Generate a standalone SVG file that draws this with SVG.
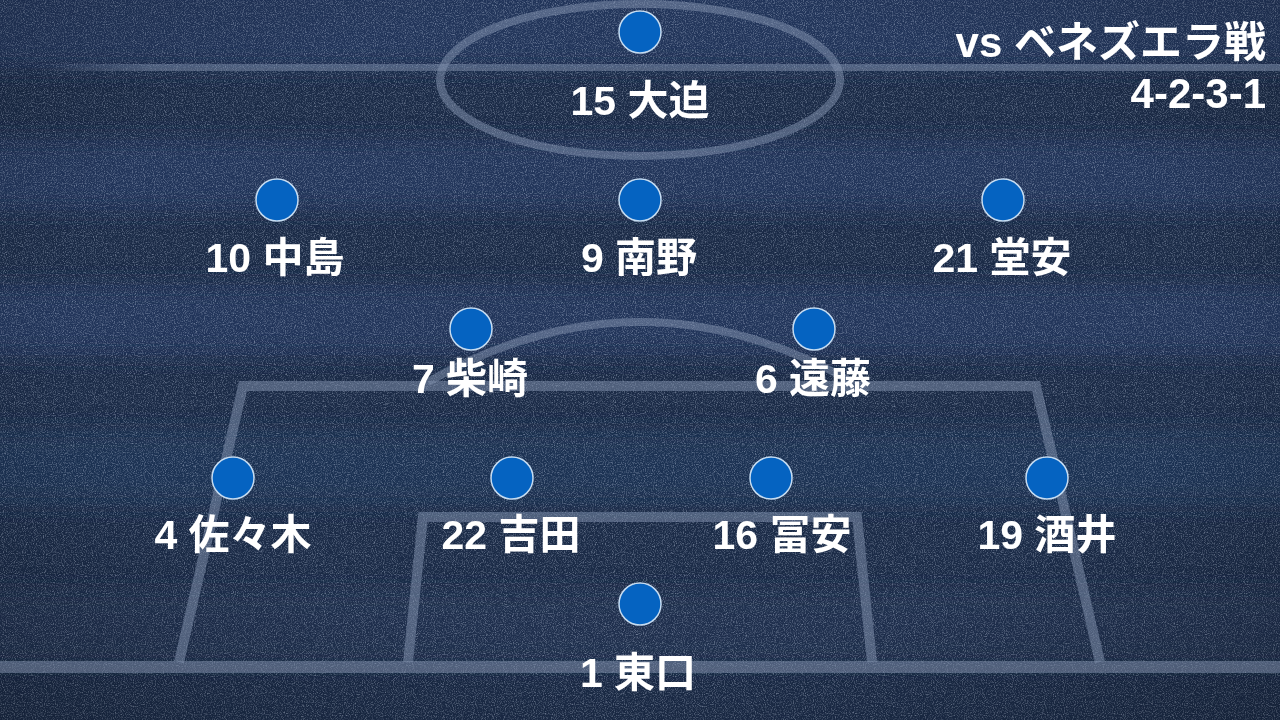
<svg xmlns="http://www.w3.org/2000/svg" width="1280" height="720" viewBox="0 0 1280 720">
  <defs>
    <style>
      .lbl { font-family: "Liberation Sans", "Noto Sans CJK JP", sans-serif; font-weight: bold; font-size: 41px; fill: #ffffff; text-anchor: middle; }
      .ttl { font-family: "Liberation Sans", "Noto Sans CJK JP", sans-serif; font-weight: bold; font-size: 42px; fill: #ffffff; text-anchor: end; }
      .pl { fill: #0563c1; stroke: #c5dcf2; stroke-width: 1.5; }
      .ln { fill: none; stroke: #8394b0; stroke-opacity: 0.5; }
      .lite { fill: #22365a; }
    </style>
    <filter id="noise" x="0" y="0" width="100%" height="100%">
      <feTurbulence type="fractalNoise" baseFrequency="0.9" numOctaves="2" seed="4" result="t"/>
      <feColorMatrix type="matrix" values="0 0 0 0 0.72  0 0 0 0 0.8  0 0 0 0 0.95  2.2 0 0 0 -1.0" />
    </filter>
    <filter id="soft" x="0" y="-0.5" width="1" height="2">
      <feGaussianBlur stdDeviation="0 10"/>
    </filter>
    <linearGradient id="halfFade" x1="0" y1="0" x2="1" y2="0">
      <stop offset="0" stop-color="#8394b0" stop-opacity="0"/>
      <stop offset="0.09" stop-color="#8394b0" stop-opacity="0.45"/>
      <stop offset="1" stop-color="#8394b0" stop-opacity="0.5"/>
    </linearGradient>
    <radialGradient id="vig" cx="0.5" cy="0.45" r="0.75">
      <stop offset="0.6" stop-color="#000" stop-opacity="0"/>
      <stop offset="1" stop-color="#000" stop-opacity="0.2"/>
    </radialGradient>
  </defs>

  <g id="pitch">
    <rect x="0" y="0" width="1280" height="720" fill="#1b2b47"/>
    <g filter="url(#soft)">
      <rect class="lite" x="0" y="-20" width="1280" height="88"/>
      <rect class="lite" x="0" y="140" width="1280" height="70"/>
      <rect class="lite" x="0" y="285" width="1280" height="70"/>
      <rect class="lite" x="0" y="430" width="1280" height="75" opacity="0.6"/>
      <rect class="lite" x="0" y="590" width="1280" height="75" opacity="0.4"/>
    </g>
    <rect x="0" y="0" width="1280" height="720" filter="url(#noise)" opacity="0.45"/>
    <rect x="0" y="0" width="1280" height="720" fill="url(#vig)"/>

    <rect x="40" y="64" width="1240" height="7" fill="url(#halfFade)"/>
    <ellipse class="ln" cx="640" cy="80" rx="200" ry="76" stroke-width="8"/>
    <path class="ln" d="M 428 382 Q 640 262 852 382" stroke-width="8"/>
    <path class="ln" d="M 179 662 L 243 386 L 1036 386 L 1100 662" stroke-width="10" stroke-linejoin="miter"/>
    <path class="ln" d="M 408 662 L 423 517 L 857 517 L 872 662" stroke-width="10" stroke-linejoin="miter"/>
    <rect x="0" y="661" width="1280" height="12" fill="#8394b0" fill-opacity="0.5"/>
  </g>

  <g id="connectors"/>

  <g id="title">
    <text class="ttl" x="1266" y="57">vs ベネズエラ戦</text>
    <text class="ttl" x="1266" y="108">4-2-3-1</text>
  </g>

  <g id="p15"><circle class="pl" cx="640" cy="32" r="21"/><text class="lbl" x="640" y="115">15 大迫</text></g>
  <g id="p10"><circle class="pl" cx="277" cy="200" r="21"/><text class="lbl" x="275" y="272">10 中島</text></g>
  <g id="p9"><circle class="pl" cx="640" cy="200" r="21"/><text class="lbl" x="639" y="272">9 南野</text></g>
  <g id="p21"><circle class="pl" cx="1003" cy="200" r="21"/><text class="lbl" x="1002" y="272">21 堂安</text></g>
  <g id="p7"><circle class="pl" cx="471" cy="329" r="21"/><text class="lbl" x="470" y="393">7 柴崎</text></g>
  <g id="p6"><circle class="pl" cx="814" cy="329" r="21"/><text class="lbl" x="813" y="393">6 遠藤</text></g>
  <g id="p4"><circle class="pl" cx="233" cy="478" r="21"/><text class="lbl" x="233" y="549">4 佐々木</text></g>
  <g id="p22"><circle class="pl" cx="512" cy="478" r="21"/><text class="lbl" x="511" y="549">22 吉田</text></g>
  <g id="p16"><circle class="pl" cx="771" cy="478" r="21"/><text class="lbl" x="782" y="549">16 冨安</text></g>
  <g id="p19"><circle class="pl" cx="1047" cy="478" r="21"/><text class="lbl" x="1047" y="549">19 酒井</text></g>
  <g id="p1"><circle class="pl" cx="640" cy="604" r="21"/><text class="lbl" x="638" y="687">1 東口</text></g>
</svg>
